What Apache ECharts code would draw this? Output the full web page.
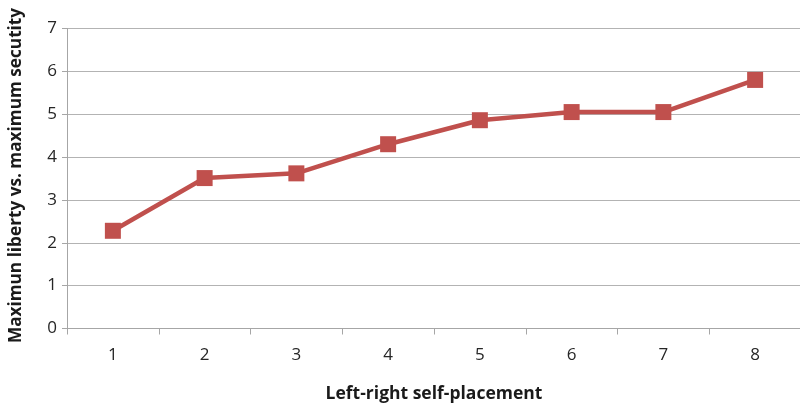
<!DOCTYPE html>
<html>
<head>
<meta charset="utf-8">
<script src="https://cdn.jsdelivr.net/npm/echarts@6/dist/echarts.min.js"></script>
<style>
  html, body { margin: 0; padding: 0; background: #fff; }
  #chart { width: 800px; height: 404px; }
</style>
</head>
<body>
<div id="chart"></div>
<script>
// Self-placement categories on the left-right scale
const categories = ['1', '2', '3', '4', '5', '6', '7', '8'];
// Mean position on the liberty vs. security scale
const libertySecurity = [2.28, 3.51, 3.62, 4.3, 4.86, 5.05, 5.05, 5.8];
// Value-axis tick range
const yTicks = [0, 1, 2, 3, 4, 5, 6, 7];

const font = '"Open Sans", "Noto Sans", sans-serif';
const chart = echarts.init(document.getElementById('chart'));
chart.setOption({
  animation: false,
  grid: { left: 67, right: -1, top: 28.5, bottom: 75.5, outerBoundsMode: 'none', containLabel: false },
  xAxis: {
    type: 'category',
    data: categories,
    boundaryGap: true,
    name: 'Left-right self-placement',
    nameLocation: 'middle',
    nameGap: 57,
    nameTextStyle: { fontFamily: font, fontWeight: 'bold', fontSize: 17.5, color: '#1a1a1a' },
    axisLine: { lineStyle: { color: '#a6a6a6', width: 1 } },
    axisTick: { show: true, alignWithLabel: false, length: 6, lineStyle: { color: '#a6a6a6' } },
    axisLabel: { fontFamily: font, fontSize: 17, color: '#262626', margin: 18 }
  },
  yAxis: {
    type: 'value',
    min: yTicks[0],
    max: yTicks[yTicks.length - 1],
    interval: 1,
    name: 'Maximun liberty vs. maximum secutity',
    nameLocation: 'middle',
    nameGap: 42,
    nameTextStyle: { fontFamily: font, fontWeight: 'bold', fontSize: 17.2, color: '#1a1a1a', padding: [0, 0, 0, 6] },
    axisLine: { show: true, lineStyle: { color: '#a6a6a6', width: 1 } },
    axisTick: { show: true, length: 5, lineStyle: { color: '#a6a6a6' } },
    axisLabel: { fontFamily: font, fontSize: 17, color: '#262626', margin: 10 },
    splitLine: { lineStyle: { color: '#b3b3b3', width: 1 } }
  },
  series: [{
    type: 'line',
    data: libertySecurity,
    symbol: 'rect',
    symbolSize: 16,
    lineStyle: { color: '#c0504d', width: 4.5 },
    itemStyle: { color: '#c0504d' }
  }]
});
</script>
</body>
</html>
